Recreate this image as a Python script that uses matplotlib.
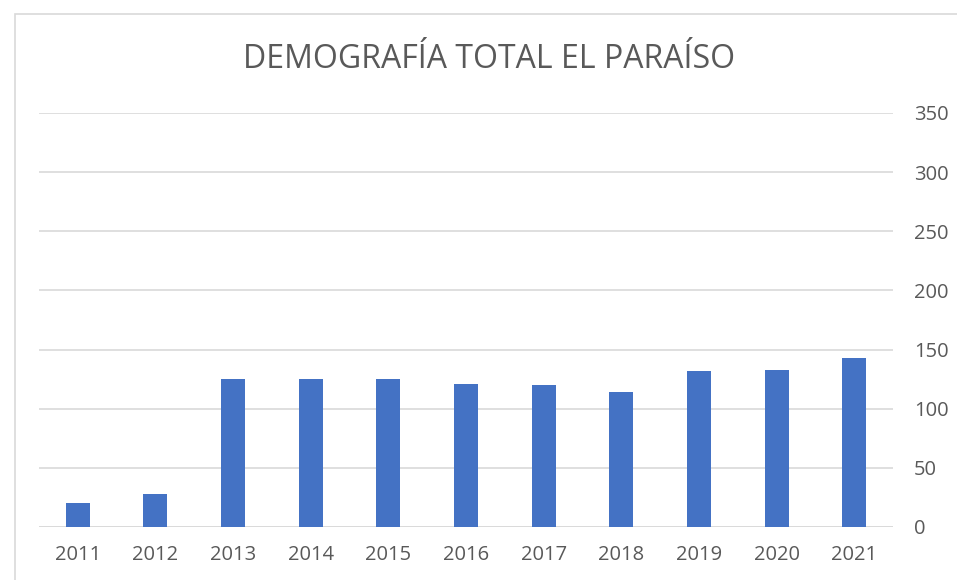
import matplotlib
matplotlib.use("Agg")
import matplotlib.pyplot as plt
from matplotlib.patches import Rectangle

years = ["2011", "2012", "2013", "2014", "2015", "2016", "2017", "2018", "2019", "2020", "2021"]
values = [20, 28, 125, 125, 125, 121, 120, 114, 132, 133, 143]
yticks = [0, 50, 100, 150, 200, 250, 300, 350]
title = "DEMOGRAFÍA TOTAL EL PARAÍSO"

plt.rcParams['font.family'] = ['Open Sans', 'DejaVu Sans']
W, H = 957, 580
fig = plt.figure(figsize=(W/100, H/100), dpi=100)
fig.patches.append(Rectangle((15/W, -0.1), 1.2, 1 - 14/H + 0.1, transform=fig.transFigure,
                             fill=False, edgecolor='#D9D9D9', linewidth=1.2))

ax = fig.add_axes([39/W, 1 - 527/H, (893-39)/W, (527-113)/H])
x = list(range(len(years)))
ax.bar(x, values, width=0.31, color='#4472C4', zorder=3)
ax.set_xlim(-0.5, len(years) - 0.5)
ax.set_ylim(0, 350)
ax.set_yticks(yticks)
ax.yaxis.tick_right()
ax.set_xticks(x)
ax.set_xticklabels(years)
ax.tick_params(axis='both', length=0, labelsize=14.5, colors='#595959')
ax.tick_params(axis='y', pad=15)
ax.tick_params(axis='x', pad=13)
ax.grid(axis='y', color='#D9D9D9', linewidth=1.2, zorder=0)
for s in ax.spines.values():
    s.set_visible(False)
ax.axhline(0, color='#D9D9D9', linewidth=1.2, zorder=2)

fig.text(489/W, 1 - 60/H, title, ha='center', va='center', fontsize=23, color='#595959')

fig.savefig("out.png", dpi=100)
